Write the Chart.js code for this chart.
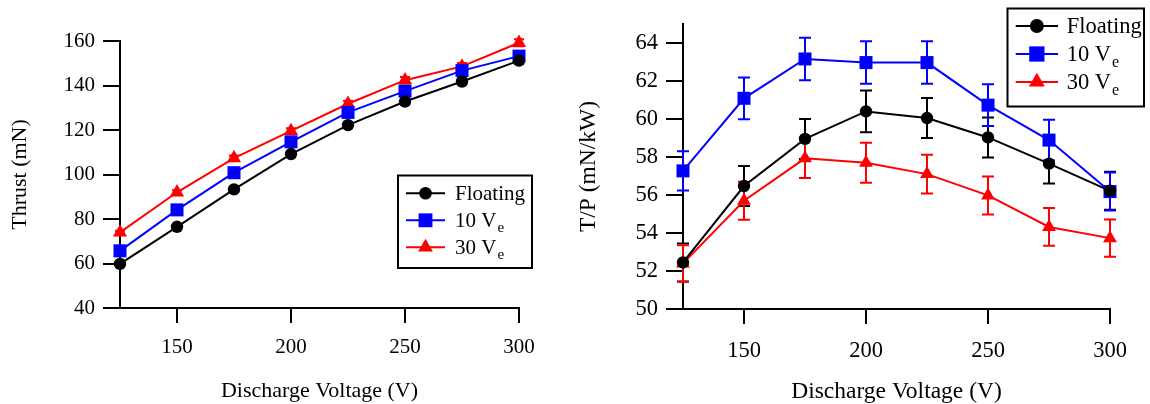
<!DOCTYPE html>
<html>
<head>
<meta charset="utf-8">
<script src="https://cdn.jsdelivr.net/npm/chart.js@4.4.0/dist/chart.umd.min.js"></script>
<style>
  html, body { margin: 0; padding: 0; background: #ffffff; }
  #wrap { position: relative; width: 1150px; height: 404px; overflow: hidden; }
  .panel { position: absolute; top: 0; width: 575px; height: 404px; }
</style>
</head>
<body>
<div id="wrap">
  <div class="panel" style="left:0"><canvas id="thrustChart" width="575" height="404"></canvas></div>
  <div class="panel" style="left:575px"><canvas id="tpChart" width="575" height="404"></canvas></div>
</div>
<script>
// Discharge voltage sweep (V)
const voltages = [125, 150, 175, 200, 225, 250, 275, 300];
const voltageTicks = [150, 200, 250, 300];

// Series names: main text plus subscript
const seriesNames = ['Floating', '10 V', '30 V'];
const seriesSubs = ['', 'e', 'e'];

// Thrust (mN)
const thrustFloating = [59.8, 76.5, 93.3, 109.2, 122.2, 132.8, 141.8, 151.2];
const thrust10Ve     = [65.7, 84.1, 100.8, 114.7, 127.9, 137.5, 146.7, 153.2];
const thrust30Ve     = [74.0, 92.0, 107.4, 119.6, 131.8, 142.4, 148.6, 159.2];
const thrustErrFloating = [0.6, 0.8, 0.9, 1.1, 1.2, 1.3, 1.4, 1.5];
const thrustErr10Ve     = [0.7, 0.8, 1.0, 1.1, 1.3, 1.4, 1.5, 1.5];
const thrustErr30Ve     = [0.7, 0.9, 1.1, 1.2, 1.3, 1.4, 1.5, 1.6];
const thrustTicks = [40, 60, 80, 100, 120, 140, 160];

// Thrust-to-power (mN/kW)
const tpFloating = [52.45, 56.47, 58.95, 60.4, 60.05, 59.03, 57.65, 56.22];
const tp10Ve     = [57.27, 61.09, 63.16, 62.97, 62.97, 60.73, 58.89, 56.18];
const tp30Ve     = [52.4, 55.7, 57.93, 57.7, 57.1, 55.98, 54.32, 53.73];
const tpErrFloating = [1.0, 1.05, 1.05, 1.1, 1.05, 1.05, 1.05, 1.0];
const tpErr10Ve     = [1.03, 1.1, 1.12, 1.12, 1.12, 1.1, 1.07, 1.0];
const tpErr30Ve     = [0.96, 1.0, 1.04, 1.05, 1.02, 1.0, 0.99, 0.98];
const tpTicks = [50, 52, 54, 56, 58, 60, 62, 64];

const FONT = '"Liberation Serif", "Times New Roman", serif';
const COLORS = ['#000000', '#0000ff', '#ff0000'];
const STYLES = ['circle', 'rect', 'triangle'];

// Marker path, same geometry as Chart.js point styles
function markerPath(ctx, style, r, x, y) {
  ctx.beginPath();
  if (style === 'circle') {
    ctx.arc(x, y, r, 0, Math.PI * 2);
  } else if (style === 'rect') {
    const s = Math.SQRT1_2 * r;
    ctx.rect(x - s, y - s, 2 * s, 2 * s);
  } else {
    let a = 0;
    ctx.moveTo(x + Math.sin(a) * r, y - Math.cos(a) * r);
    a += 2 * Math.PI / 3;
    ctx.lineTo(x + Math.sin(a) * r, y - Math.cos(a) * r);
    a += 2 * Math.PI / 3;
    ctx.lineTo(x + Math.sin(a) * r, y - Math.cos(a) * r);
  }
  ctx.closePath();
}

// Vertical error bars with caps, drawn under the markers
const errorBars = {
  id: 'errorBars',
  beforeDatasetsDraw(chart, args, opts) {
    const { ctx } = chart;
    const xs = chart.scales.x, ys = chart.scales.y;
    chart.data.datasets.forEach(ds => {
      if (!ds.errors) return;
      ctx.save();
      ctx.strokeStyle = ds.borderColor;
      ctx.lineWidth = opts.lineWidth || 2;
      const cap = opts.cap || 6;
      ds.data.forEach((p, i) => {
        const px = xs.getPixelForValue(p.x);
        const t = ys.getPixelForValue(p.y + ds.errors[i]);
        const b = ys.getPixelForValue(p.y - ds.errors[i]);
        ctx.beginPath();
        ctx.moveTo(px, t); ctx.lineTo(px, b);
        ctx.moveTo(px - cap, t); ctx.lineTo(px + cap, t);
        ctx.moveTo(px - cap, b); ctx.lineTo(px + cap, b);
        ctx.stroke();
      });
      ctx.restore();
    });
  }
};

// Boxed legend with subscripted labels
const boxLegend = {
  id: 'boxLegend',
  afterDraw(chart, args, o) {
    const { ctx } = chart;
    ctx.save();
    ctx.lineWidth = 2;
    ctx.strokeStyle = '#000';
    ctx.strokeRect(o.left, o.top, o.width, o.height);
    chart.data.datasets.forEach((ds, i) => {
      const y = o.rows[i];
      ctx.strokeStyle = ds.borderColor;
      ctx.fillStyle = ds.borderColor;
      ctx.lineWidth = 2;
      ctx.beginPath();
      ctx.moveTo(o.lineX0, y); ctx.lineTo(o.lineX1, y);
      ctx.stroke();
      markerPath(ctx, ds.pointStyle, o.radii[i], (o.lineX0 + o.lineX1) / 2, y);
      ctx.fill();
      ctx.fillStyle = '#000';
      ctx.textAlign = 'left';
      ctx.textBaseline = 'alphabetic';
      ctx.font = o.size + 'px ' + FONT;
      const base = y + o.size * 0.33;
      ctx.fillText(seriesNames[i], o.textX, base);
      if (seriesSubs[i]) {
        const w = ctx.measureText(seriesNames[i]).width;
        ctx.font = o.subSize + 'px ' + FONT;
        ctx.fillText(seriesSubs[i], o.textX + w + 1, base + o.subDrop);
      }
    });
    ctx.restore();
  }
};

function toPoints(values) {
  return values.map((v, i) => ({ x: voltages[i], y: v }));
}

function makeDatasets(series, errs, radii) {
  return series.map((vals, i) => ({
    label: seriesNames[i] + seriesSubs[i],
    data: toPoints(vals),
    errors: errs[i],
    borderColor: COLORS[i],
    backgroundColor: COLORS[i],
    borderWidth: 2,
    pointStyle: STYLES[i],
    pointRadius: radii[i],
    pointBackgroundColor: COLORS[i],
    pointBorderWidth: 0,
    tension: 0,
    clip: false
  }));
}

function axisOpts(s) {
  return {
    x: {
      type: 'linear', min: 125, max: 300,
      afterBuildTicks: sc => { sc.ticks = voltageTicks.map(v => ({ value: v })); },
      afterFit: sc => { sc.height = s.xHeight; },
      ticks: { color: '#000', font: { family: FONT, size: s.tickSize }, padding: s.xTickPad, maxRotation: 0, autoSkip: false },
      grid: { drawOnChartArea: false, drawTicks: true, tickLength: 15, color: '#000', lineWidth: 2 },
      border: { display: true, color: '#000', width: 2 },
      title: { display: true, text: 'Discharge Voltage (V)', color: '#000',
               font: { family: FONT, size: s.titleSize, lineHeight: 1 }, padding: { top: 0, bottom: s.xTitlePad } }
    },
    y: {
      type: 'linear', min: s.yMin, max: s.yMax,
      afterBuildTicks: sc => { sc.ticks = s.yTicks.map(v => ({ value: v })); },
      afterFit: sc => { sc.width = s.yWidth; },
      ticks: { color: '#000', font: { family: FONT, size: s.tickSize }, padding: 8 },
      grid: { drawOnChartArea: false, drawTicks: true, tickLength: 17, color: '#000', lineWidth: 2 },
      border: { display: true, color: '#000', width: 2 },
      title: { display: true, text: s.yTitle, color: '#000',
               font: { family: FONT, size: s.titleSize, lineHeight: 1 }, padding: { top: s.yTitlePad, bottom: 0 } }
    }
  };
}

new Chart(document.getElementById('thrustChart'), {
  type: 'line',
  data: { datasets: makeDatasets([thrustFloating, thrust10Ve, thrust30Ve],
                                 [thrustErrFloating, thrustErr10Ve, thrustErr30Ve], [6.2, 9.2, 8.2]) },
  options: {
    responsive: false, animation: false, devicePixelRatio: 1,
    layout: { padding: { left: 0, top: 41, right: 56, bottom: 0 } },
    scales: axisOpts({ xHeight: 96, yWidth: 120, tickSize: 21, titleSize: 22, xTickPad: 12,
                       xTitlePad: 2, yTitlePad: 9, yMin: 40, yMax: 160, yTicks: thrustTicks, yTitle: 'Thrust (mN)' }),
    plugins: {
      legend: { display: false }, tooltip: { enabled: false },
      errorBars: { cap: 5, lineWidth: 2 },
      boxLegend: { left: 398, top: 175.5, width: 134, height: 92.5, rows: [193.3, 220.3, 247.3],
                   lineX0: 406, lineX1: 445, radii: [6.3, 9.8, 8.5], textX: 455, size: 21, subSize: 15, subDrop: 4.5 }
    }
  },
  plugins: [errorBars, boxLegend]
});

new Chart(document.getElementById('tpChart'), {
  type: 'line',
  data: { datasets: makeDatasets([tpFloating, tp10Ve, tp30Ve],
                                 [tpErrFloating, tpErr10Ve, tpErr30Ve], [6.2, 9.2, 8]) },
  options: {
    responsive: false, animation: false, devicePixelRatio: 1,
    layout: { padding: { left: 0, top: 24, right: 40, bottom: 0 } },
    scales: axisOpts({ xHeight: 95, yWidth: 108, tickSize: 22.5, titleSize: 23.5, xTickPad: 14,
                       xTitlePad: 0, yTitlePad: 2, yMin: 50, yMax: 65, yTicks: tpTicks, yTitle: 'T/P (mN/kW)' }),
    plugins: {
      legend: { display: false }, tooltip: { enabled: false },
      errorBars: { cap: 6, lineWidth: 2 },
      boxLegend: { left: 432.5, top: 8.5, width: 136.5, height: 98, rows: [26, 54, 82],
                   lineX0: 440.7, lineX1: 483, radii: [7, 10.8, 9.2], textX: 491.7, size: 22.5, subSize: 16, subDrop: 5.5 }
    }
  },
  plugins: [errorBars, boxLegend]
});
</script>
</body>
</html>
